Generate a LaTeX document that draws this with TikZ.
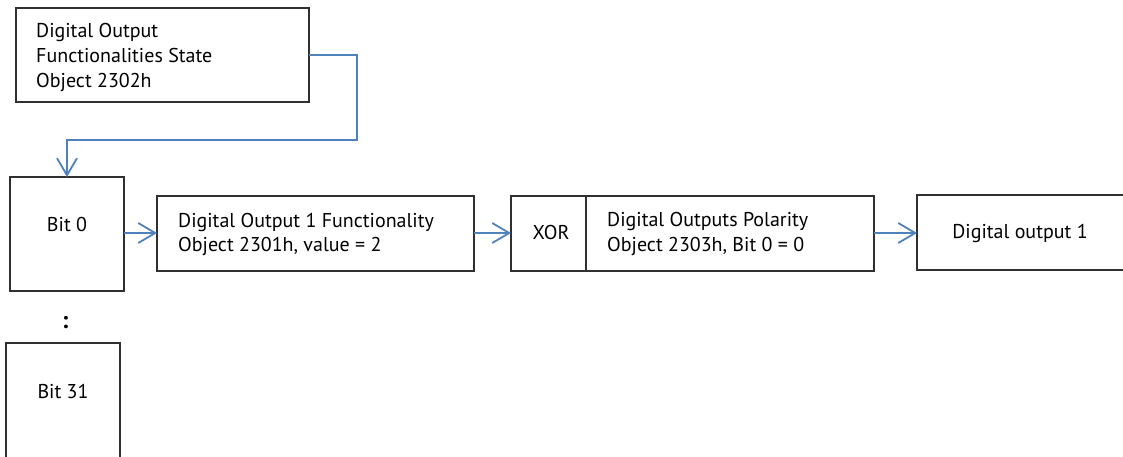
\documentclass[tikz,border=0pt]{standalone}
\usepackage{fontspec}
\setmainfont{PT Sans}
\usetikzlibrary{arrows.meta}
\definecolor{conn}{HTML}{4F81BD}
\definecolor{boxline}{HTML}{303030}
\tikzset{
  blk/.style={draw=boxline, line width=1.5pt},
  conn/.style={draw=conn, line width=1.8pt, -{Straight Barb[length=17pt,width=20pt,line width=1.8pt]}},
  txt/.style={inner sep=0pt, font=\fontsize{20}{25}\selectfont, text=black},
}
\begin{document}
\begin{tikzpicture}[x=1pt,y=-1pt]
\useasboundingbox (0,0) rectangle (1123,456);
\fill[white] (0,0) rectangle (1123,456);
\clip (0,0) rectangle (1123,456);
% boxes
\draw[blk] (16,8) rectangle (309,102);
\coordinate (topR) at (309,55);
\draw[blk] (10,177) rectangle (124,291);
\coordinate (b0top) at (67,177);
\coordinate (b0R) at (124,233);
\draw[blk] (157,196) rectangle (474,271);
\coordinate (fL) at (157,233);
\coordinate (fR) at (474,233);
\draw[blk] (511,196) rectangle (874,271);
\draw[blk] (586,196) -- (586,271);
\coordinate (xL) at (511,233);
\coordinate (pR) at (874,233);
\draw[blk] (917,195) rectangle (1140,270);
\coordinate (dL) at (917,233);
\draw[blk] (6,343) rectangle (120,470);
% texts
\node[txt, anchor=base west] (t1) at (36,37) {Digital Output};
\node[txt, anchor=base west] (t2) at (36,62) {Functionalities State};
\node[txt, anchor=base west] (t3) at (36,87) {Object 2302h};
\node[txt, anchor=base] (b0) at (67,231) {Bit 0};
\node[txt, anchor=base, font=\bfseries\fontsize{24}{25}\selectfont] (dots) at (65,328) {:};
\node[txt, anchor=base] (b31) at (63,398) {Bit 31};
\node[txt, anchor=base west] (f1) at (178,227) {Digital Output 1 Functionality};
\node[txt, anchor=base west] (f2) at (178,251) {Object 2301h, value = 2};
\node[txt, anchor=base] (xor) at (551,239) {XOR};
\node[txt, anchor=base west] (p1) at (607,226) {Digital Outputs Polarity};
\node[txt, anchor=base west] (p2) at (607,251) {Object 2303h, Bit 0 = 0};
\node[txt, anchor=base] (dout) at (1020,238) {Digital output 1};
% connectors
\draw[conn] (topR) -| (357,140) -| (b0top);
\draw[conn] (b0R) -- (fL);
\draw[conn] (fR) -- (xL);
\draw[conn] (pR) -- (dL);
\end{tikzpicture}
\end{document}
